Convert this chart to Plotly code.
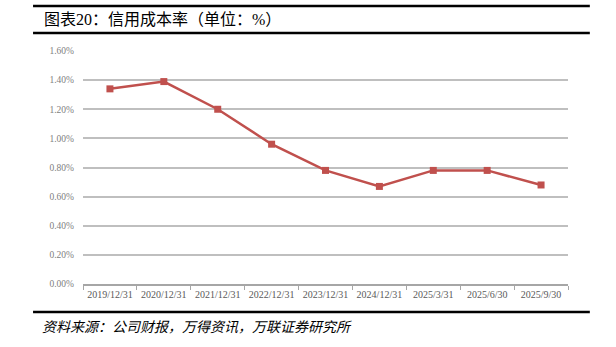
import plotly.graph_objects as go

categories = ["2019/12/31", "2020/12/31", "2021/12/31", "2022/12/31", "2023/12/31",
              "2024/12/31", "2025/3/31", "2025/6/30", "2025/9/30"]
credit_cost = [1.34, 1.39, 1.20, 0.96, 0.78, 0.67, 0.78, 0.78, 0.68]
y_ticks = [0, 0.2, 0.4, 0.6, 0.8, 1.0, 1.2, 1.4, 1.6]
y_tick_text = ["0.00%", "0.20%", "0.40%", "0.60%", "0.80%", "1.00%", "1.20%", "1.40%", "1.60%"]

title_text = "图表20：信用成本率（单位：%）"
source_text = "资料来源：公司财报，万得资讯，万联证券研究所"

fig = go.Figure()
fig.add_trace(go.Scatter(
    x=categories, y=credit_cost, mode="lines+markers",
    line=dict(color="#C0504D", width=2.5),
    marker=dict(symbol="square", size=7, color="#C0504D"),
    showlegend=False,
))

font_family = "Liberation Serif, Noto Sans CJK SC, serif"

fig.update_layout(
    width=616, height=347,
    margin=dict(l=83, r=48, t=51, b=63),
    paper_bgcolor="white", plot_bgcolor="white",
    font=dict(family=font_family, color="#595959"),
    xaxis=dict(
        type="category", showgrid=False, showline=True, linecolor="#A6A6A6", linewidth=1.5,
        ticks="outside", tickson="boundaries", ticklen=4, tickcolor="#A6A6A6",
        tickfont=dict(size=10, color="#595959"), tickangle=0, range=[-0.5, 8.5],
    ),
    yaxis=dict(
        range=[0, 1.6], tickvals=y_ticks, ticktext=y_tick_text,
        showgrid=True, gridcolor="#BFBFBF", gridwidth=1.5, zeroline=False, showline=False,
        tickfont=dict(size=9.5, color="#808080"), ticks="", ticklabelstandoff=8,
    ),
    shapes=[
        dict(type="line", xref="paper", yref="paper", x0=-0.103, x1=1.045, y0=1.193, y1=1.193,
             line=dict(color="black", width=2.5)),
        dict(type="line", xref="paper", yref="paper", x0=-0.103, x1=1.045, y0=1.077, y1=1.077,
             line=dict(color="black", width=2.5)),
        dict(type="line", xref="paper", yref="paper", x0=-0.103, x1=1.045, y0=-0.120, y1=-0.120,
             line=dict(color="black", width=2.5)),
    ],
    annotations=[
        dict(text=title_text, xref="paper", yref="paper", x=-0.085, y=1.135,
             xanchor="left", yanchor="middle", showarrow=False,
             font=dict(size=16, color="black", family=font_family)),
        dict(text="<i>" + source_text + "</i>", xref="paper", yref="paper", x=-0.089, y=-0.185,
             xanchor="left", yanchor="middle", showarrow=False,
             font=dict(size=14, color="black", family=font_family)),
    ],
)

fig.write_html("out.html")
